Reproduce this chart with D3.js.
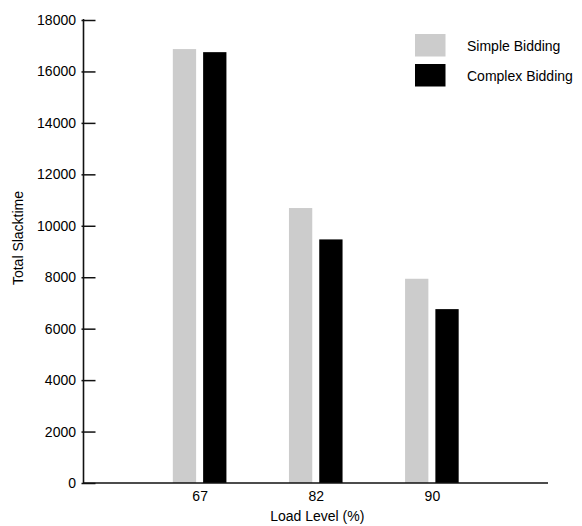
<!DOCTYPE html>
<html><head><meta charset="utf-8">
<script src="https://cdn.jsdelivr.net/npm/d3@7"></script>
<style>body{margin:0;background:#fff}svg{display:block}text{font-family:"Liberation Sans",Arial,sans-serif;fill:#000}</style>
</head><body>
<script>
const categories = ["67", "82", "90"];
const seriesNames = ["Simple Bidding", "Complex Bidding"];
const simpleBidding = [16870, 10690, 7940];
const complexBidding = [16750, 9470, 6760];
const yTicks = [0, 2000, 4000, 6000, 8000, 10000, 12000, 14000, 16000, 18000];
const colors = ["#cccccc", "#000000"];

const W = 582, H = 526;
const mLeft = 83.5, mRight = 548, mTop = 20, mBottom = 483;
const FS = 14;
const svg = d3.select("body").append("svg").attr("width", W).attr("height", H);

const x = d3.scalePoint().domain(categories).range([mLeft, mRight]).padding(1);
const y = d3.scaleLinear().domain([0, 18000]).range([mBottom, mTop]);
const barW = 23.3, gap = 7;

const series = [simpleBidding, complexBidding];
series.forEach((vals, si) => {
  svg.append("g").selectAll("rect").data(categories).join("rect")
    .attr("x", (c) => si === 0 ? x(c) - gap / 2 - barW : x(c) + gap / 2)
    .attr("width", barW)
    .attr("y", (c, i) => y(vals[i]))
    .attr("height", (c, i) => mBottom - y(vals[i]))
    .attr("fill", colors[si]);
});

// y axis
const ya = svg.append("g").attr("transform", `translate(${mLeft},0)`)
  .call(d3.axisRight(y).tickValues(yTicks).tickSize(12).tickFormat(""));
ya.select(".domain").remove();
ya.selectAll(".tick line").attr("stroke", "#111").attr("stroke-width", 1.5).attr("x1", -2);
svg.append("line").attr("x1", mLeft).attr("x2", mLeft).attr("y1", mTop - 1).attr("y2", mBottom + 1)
  .attr("stroke", "#111").attr("stroke-width", 1.6);
svg.append("g").selectAll("text").data(yTicks).join("text")
  .attr("x", 76).attr("y", (d) => y(d)).attr("dy", "0.36em")
  .attr("text-anchor", "end").attr("font-size", FS).text((d) => d);

// x axis
svg.append("line").attr("x1", mLeft).attr("x2", mRight).attr("y1", mBottom).attr("y2", mBottom)
  .attr("stroke", "#111").attr("stroke-width", 1.6);
const xa = svg.append("g").attr("transform", `translate(0,${mBottom})`)
  .call(d3.axisBottom(x).tickSize(0).tickPadding(8));
xa.select(".domain").remove();
xa.selectAll("text").attr("font-size", FS).style("font-family", "Liberation Sans, Arial, sans-serif").attr("fill", "#000");

svg.append("text").attr("x", (mLeft + mRight) / 2 + 1.5).attr("y", 521)
  .attr("text-anchor", "middle").attr("font-size", FS).text("Load Level (%)");
svg.append("text").attr("transform", "translate(23,238) rotate(-90)")
  .attr("text-anchor", "middle").attr("font-size", FS).text("Total Slacktime");

// legend
const lg = svg.append("g");
seriesNames.forEach((n, i) => {
  lg.append("rect").attr("x", 415).attr("y", 34 + i * 30).attr("width", 30.5).attr("height", 22.5).attr("fill", colors[i]);
  lg.append("text").attr("x", 467).attr("y", 45.5 + i * 30).attr("dy", "0.36em").attr("font-size", FS).text(n);
});
</script>
</body></html>
